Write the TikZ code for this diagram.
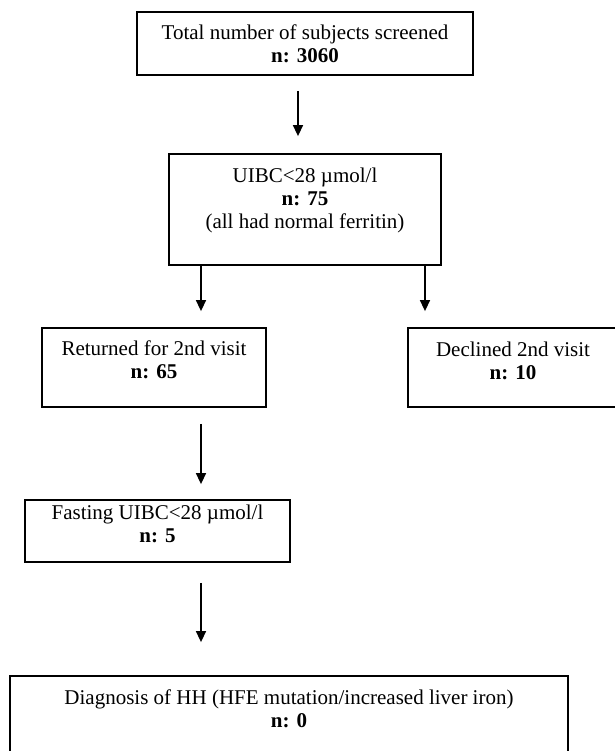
\documentclass[tikz,border=0pt]{standalone}
\usepackage{fontspec}
\setmainfont{Liberation Serif}
\usetikzlibrary{arrows.meta}
\tikzset{
  box/.style={draw, line width=0.9pt, rectangle, inner sep=0pt},
  txt/.style={align=center, inner sep=0pt, font=\fontsize{10.5}{11.5}\selectfont},
  arr/.style={line width=0.7pt, -{Triangle[length=5.5pt,width=5pt]}}
}
\begin{document}
\begin{tikzpicture}[x=0.5pt,y=-0.5pt]
\useasboundingbox (0,0) rectangle (615,751);
% boxes
\node[box, minimum width=168pt, minimum height=31.5pt] (b1) at (305,43.5) {};
\node[txt] (t1) at (305,43.5) {Total number of subjects screened\\ \textbf{n: 3060}};
\node[box, minimum width=136pt, minimum height=55.5pt] (b2) at (305,209.5) {};
\node[txt] (t2) at (305,200) {UIBC<28 µmol/l\\ \textbf{n: 75}\\ (all had normal ferritin)};
\node[box, minimum width=112pt, minimum height=39.5pt] (b3) at (154,367.5) {};
\node[txt] (t3) at (154,360) {Returned for 2nd visit\\ \textbf{n: 65}};
\node[box, minimum width=105pt, minimum height=39.5pt] (b4) at (513,367.5) {};
\node[txt] (t4) at (513,361) {Declined 2nd visit\\ \textbf{n: 10}};
\node[box, minimum width=132.5pt, minimum height=31pt] (b5) at (157.5,531) {};
\node[txt] (t5) at (157.5,523.5) {Fasting UIBC<28 µmol/l\\ \textbf{n: 5}};
\node[box, minimum width=279pt, minimum height=47pt] (b6) at (289,723) {};
\node[txt] (t6) at (289,708.5) {Diagnosis of HH (HFE mutation/increased liver iron)\\ \textbf{n: 0}};
% arrow columns
\coordinate (xc) at (298,0);
\coordinate (xl) at (201,0);
\coordinate (xr) at (425,0);
% connectors
\draw[arr, shorten <=7.5pt, shorten >=8.5pt] (b1.south -| xc) -- (b2.north -| xc);
\draw[arr, shorten >=8pt] (b2.south -| xl) -- (b3.north -| xl);
\draw[arr, shorten >=8pt] (b2.south -| xr) -- (b4.north -| xr);
\draw[arr, shorten <=8pt, shorten >=7.5pt] (b3.south -| xl) -- (b5.north -| xl);
\draw[arr, shorten <=10pt, shorten >=16.5pt] (b5.south -| xl) -- (b6.north -| xl);
\end{tikzpicture}
\end{document}
